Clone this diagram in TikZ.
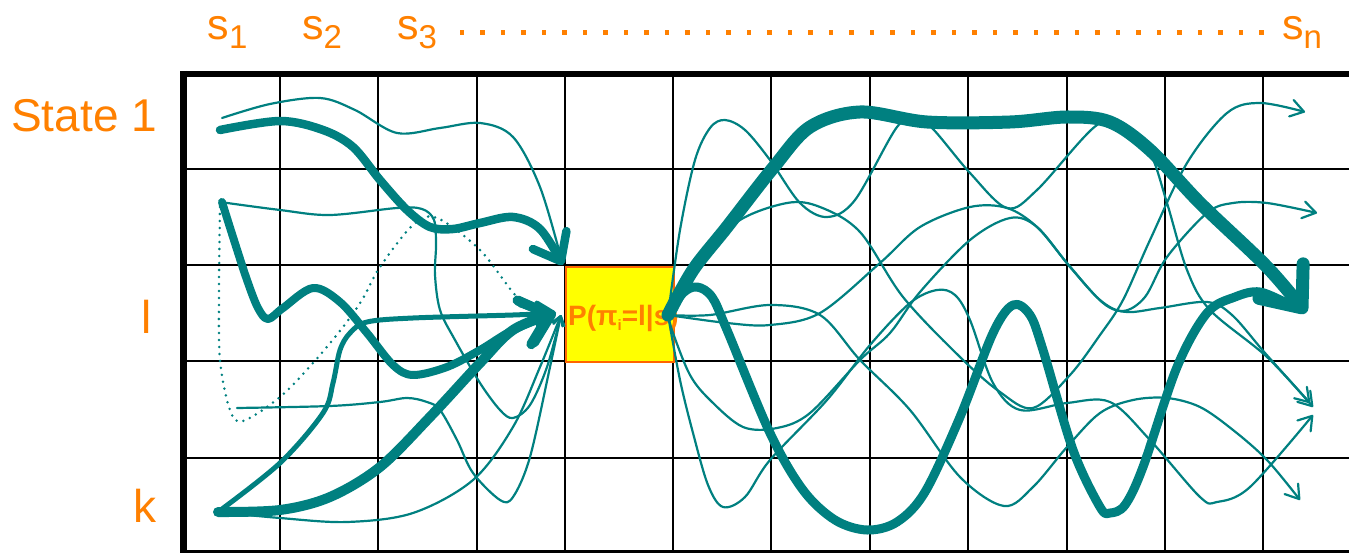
\documentclass[tikz,border=0pt]{standalone}
\usepackage{fontspec}
\setmainfont{Liberation Sans}
\usetikzlibrary{arrows.meta}
\definecolor{teal2}{RGB}{0,128,128}
\definecolor{orng}{RGB}{255,128,0}
\definecolor{boxedge}{RGB}{255,102,0}
\definecolor{boxfill}{RGB}{255,255,0}
\newcommand\subl[1]{\raisebox{-9pt}{\fontsize{33}{33}\selectfont #1}}
\begin{document}
\begin{tikzpicture}[x=1pt,y=-1pt,
  gridline/.style={line width=2.6pt,black},
  fine/.style={draw=teal2,line width=2.2pt,line cap=round,line join=round},
  fineL/.style={fine,-{Straight Barb[length=9pt,width=11pt,round]}},
  fineR/.style={fine,-{Straight Barb[length=13pt,width=17pt,round]}},
  heavy/.style={draw=teal2,line cap=round,line join=round},
  lab/.style={text=orng,inner sep=0pt,anchor=base west},
  big/.style={font=\fontsize{46}{46}\selectfont},
  slab/.style={font=\fontsize{43}{43}\selectfont,text height=22pt,text depth=12pt},
  sm/.style={smooth,tension=0.55}
]
\useasboundingbox (0,0) rectangle (1349,553);
% grid
\foreach \x in {280,378,477,565,673,771,870,968,1067,1165,1263} \draw[gridline] (\x,73) -- (\x,551);
\foreach \y in {169,265,361,458} \draw[gridline] (183,\y) -- (1352,\y);
\draw[line width=6pt] (180,74) -- (1352,74);
\draw[line width=6.5pt] (183.5,71) -- (183.5,553);
\draw[line width=3pt] (183,551.5) -- (1352,551.5);

% box
\node[draw=boxedge, fill=boxfill, line width=1.8pt, minimum width=108pt, minimum height=95pt, inner sep=0pt, anchor=north west] (pbox) at (565,266) {};
\node[lab, font=\bfseries\fontsize{28}{28}\selectfont] (ptext) at (568,326) {P(π\raisebox{-5pt}{\fontsize{15}{15}\selectfont i}=l|s)};
\coordinate (L) at (561,315);
\coordinate (R) at (668,315);

% labels
\node[lab,big] (state1) at (11,132) {State 1};
\node[lab,big] (labl) at (141,333) {l};
\node[lab,big] (labk) at (133,522) {k};
\node[lab,slab] (s1) at (207.5,39.5) {s\subl{1}};
\node[lab,slab] (s2) at (302,39.5) {s\subl{2}};
\node[lab,slab] (s3) at (397,39.5) {s\subl{3}};
\node[lab,slab] (sn) at (1282,39.5) {s\subl{n}};
\foreach \i in {0,...,39} \fill[orng] ({462+\i*20.5-2.3},30.5) rectangle ++(4.6,4.6);

% ---- left curves ----
\draw[teal2, line width=2.8pt, line cap=round, dash pattern=on 0pt off 7pt] plot[sm] coordinates {(220,207) (219,290) (220,360) (230,410) (243,421) (280,397) (313,363) (343,327) (362,300) (380,267) (413,225) (437,218) (480,250) (517,297) (540,310)};
\draw[fineL] plot[sm] coordinates {(222,118) (270,104) (320,98) (355,110) (397,133) (440,128) (480,123) (513,137) (540,187) (561,258)};
\draw[fineL] plot[sm] coordinates {(220,202) (280,210) (330,215) (397,208) (422,209) (434,220) (436,245) (435,275) (440,310) (455,340) (480,383) (500,410) (513,418) (530,405) (547,367) (L)};
\draw[fineL] plot[sm] coordinates {(237,408) (330,406) (380,402) (407,398) (427,402) (440,410) (457,440) (473,473) (500,500) (513,497) (530,457) (550,367) (L)};
\draw[fineL] plot[sm] coordinates {(218,512) (280,518) (347,522) (413,513) (473,480) (513,427) (540,367) (L)};
\draw[heavy, line width=8.5pt, -{Straight Barb[length=24pt,width=38pt,round]}] plot[sm] coordinates {(220,130) (280,121) (323,130) (353,147) (380,180) (407,210) (430,227) (453,229) (480,223) (513,217) (540,229) (563,265)};
\draw[heavy, line width=8pt, -{Straight Barb[length=26pt,width=42pt,round]}] plot[sm] coordinates {(222,202) (233,237) (247,280) (258,308) (268,319) (283,308) (313,288) (340,302) (367,333) (393,365) (413,375) (447,367) (480,350) (513,330) (556,313)};
\draw[heavy, line width=5pt, -{Straight Barb[length=16pt,width=22pt,round]}] plot[sm] coordinates {(218,512) (280,463) (323,413) (333,383) (340,350) (350,333) (367,322) (413,318) (513,315) (556,313)};
\draw[heavy, line width=10pt, -{Straight Barb[length=26pt,width=46pt,round]}] plot[sm] coordinates {(218,512) (280,510) (330,497) (380,467) (430,417) (480,363) (513,330) (554,313)};

% ---- right curves ----
\draw[fineR] plot[sm] coordinates {(R) (680,230) (695,160) (710,128) (725,120) (745,130) (770,160) (800,203) (827,217) (855,200) (897,127) (915,122) (931,127) (970,173) (1007,208) (1037,190) (1097,125) (1125,130) (1150,153) (1167,203) (1187,270) (1210,310) (1267,357) (1313,407)};
\draw[fineR] plot[sm] coordinates {(R) (700,265) (737,222) (787,203) (820,207) (860,232) (903,297) (960,357) (1000,392) (1033,408) (1070,375) (1100,335) (1123,300) (1150,240) (1187,163) (1227,113) (1260,103) (1305,112)};
\draw[fineR] plot[sm] coordinates {(R) (727,323) (770,325) (820,313) (880,263) (920,227) (970,207) (1007,208) (1037,227) (1067,263) (1103,303) (1127,312) (1160,308) (1207,302) (1232,315) (1265,353) (1310,403)};
\draw[fineR] plot[sm] coordinates {(R) (673,333) (690,375) (710,400) (743,427) (777,428) (810,413) (860,360) (890,333) (920,292) (970,240) (1010,218) (1037,227) (1070,267) (1100,300) (1123,311) (1145,297) (1167,257) (1207,213) (1233,203) (1267,203) (1317,213)};
\draw[fineR] plot[sm] coordinates {(R) (710,315) (770,305) (820,315) (860,360) (910,410) (960,477) (1004,506) (1033,487) (1067,447) (1100,413) (1133,400) (1167,398) (1200,407) (1233,430) (1267,460) (1300,500)};
\draw[fineR] plot[sm] coordinates {(R) (680,380) (693,433) (708,485) (723,507) (745,497) (770,460) (827,400) (870,345) (910,303) (937,290) (955,295) (970,320) (993,383) (1020,410) (1067,403) (1110,402) (1150,440) (1200,497) (1217,502) (1250,487) (1313,415)};
\draw[heavy, line width=9pt] plot[sm] coordinates {(R) (683,293) (697,287) (712,297) (727,330) (770,433) (803,490) (835,520) (867,530) (897,522) (925,492) (960,417) (993,333) (1013,305) (1030,315) (1043,350) (1073,450) (1100,507) (1110,513) (1125,505) (1143,467) (1177,367) (1207,313) (1235,297) (1260,292) (1290,305)};
\draw[heavy, line width=13pt, -{Straight Barb[length=34pt,width=56pt,round]}] plot[sm] coordinates {(R) (693,270) (727,227) (773,168) (810,127) (860,112) (927,122) (1010,122) (1067,117) (1110,122) (1150,150) (1200,203) (1267,267) (1306,313)};
\end{tikzpicture}
\end{document}
